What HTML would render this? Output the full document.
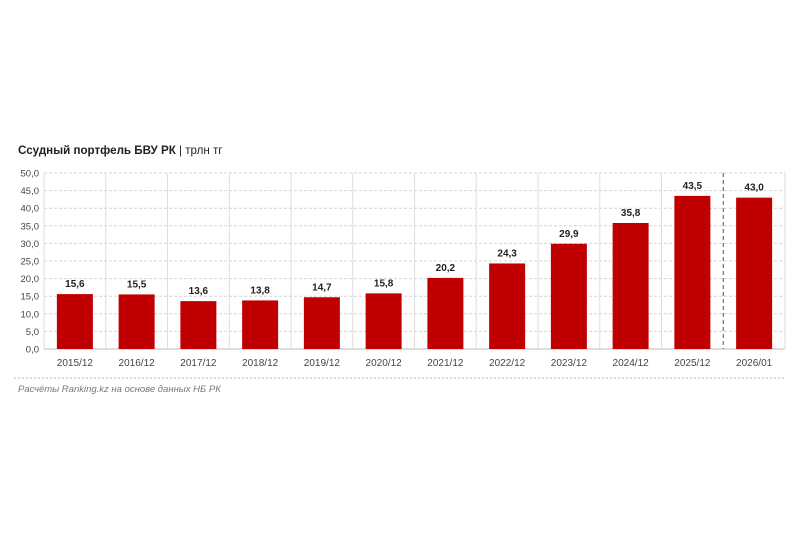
<!DOCTYPE html>
<html><head><meta charset="utf-8"><style>
body{margin:0;background:#fff;width:800px;height:533px;overflow:hidden;font-family:"Liberation Sans",sans-serif}
</style></head><body>
<svg id="c" width="800" height="533">
<text x="18" y="154" font-size="11.6" font-weight="bold" fill="#222">Ссудный портфель БВУ РК <tspan font-weight="normal">| трлн тг</tspan></text>
<line x1="14" y1="378" x2="785" y2="378" stroke="#bbb" stroke-dasharray="2,2"/>
<text x="18" y="392" font-size="9.5" font-style="italic" fill="#777">Расчёты Ranking.kz на основе данных НБ РК</text>
</svg>
<script>
const categories=["2015/12","2016/12","2017/12","2018/12","2019/12","2020/12","2021/12","2022/12","2023/12","2024/12","2025/12","2026/01"];
const values=[15.6,15.5,13.6,13.8,14.7,15.8,20.2,24.3,29.9,35.8,43.5,43.0];
const labels=["15,6","15,5","13,6","13,8","14,7","15,8","20,2","24,3","29,9","35,8","43,5","43,0"];
const ticks=[0,5,10,15,20,25,30,35,40,45,50];
const tickLabels=["0,0","5,0","10,0","15,0","20,0","25,0","30,0","35,0","40,0","45,0","50,0"];
const svg=document.getElementById('c');const NS='http://www.w3.org/2000/svg';
const L=44,R=785,T=173,B=349,ymax=50;
const y=v=>B-(B-T)*v/ymax;const step=(R-L)/categories.length;const x=i=>L+step*i;
function mk(t,a,txt){const e=document.createElementNS(NS,t);for(const k in a)e.setAttribute(k,a[k]);if(txt!==undefined)e.textContent=txt;svg.appendChild(e);return e;}
ticks.forEach((t,i)=>{
 const g=mk('line',{x1:L,x2:R,y1:y(t),y2:y(t),stroke:t===0?'#bbb':'#d4d4d4','stroke-dasharray':t===0?'':'3,2'});
 
 
 const l=mk('text',{x:L-5,y:y(t)+3.5,'font-size':9.5,fill:'#444','text-anchor':'end'},tickLabels[i]);
 
 
});
for(let i=0;i<=categories.length;i++){
 const last=i===categories.length-1;
 const s=mk('line',{x1:x(i),x2:x(i),y1:T,y2:B,stroke:last?'#555':'#ddd','stroke-dasharray':last?'4,3':''});
 
 
}
categories.forEach((c,i)=>{
 const cx=x(i)+step/2,bw=36;
 const b=mk('rect',{x:cx-bw/2,y:y(values[i]),width:bw,height:B-y(values[i]),fill:'#c00000'});
 
 
 const v=mk('text',{x:cx,y:y(values[i])-7,'font-size':10,'font-weight':'bold',fill:'#222','text-anchor':'middle'},labels[i]);
 
 
 const xl=mk('text',{x:cx,y:B+17,'font-size':10,fill:'#444','text-anchor':'middle'},c);
 
 
});
</script>
</body></html>
